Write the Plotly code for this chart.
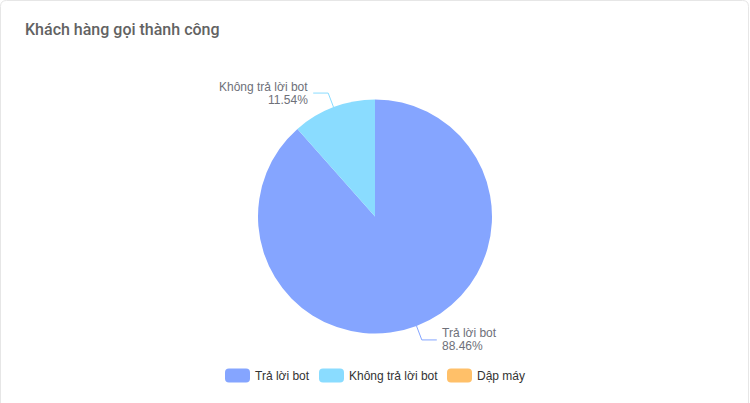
"""Pie chart: Khách hàng gọi thành công (card style, custom labels + legend)."""

import math
import plotly.graph_objects as go

TITLE = "Khách hàng gọi thành công"
CATEGORIES = ["Trả lời bot", "Không trả lời bot", "Dập máy"]
VALUES = [23, 3, 0]
COLORS = ["#85A5FF", "#8ADCFF", "#FFC069"]

W, H = 750, 403
TITLE_FONT = "Roboto, sans-serif"
FONT = "Liberation Sans, Arial, sans-serif"

# pie geometry (pixels, y down)
CX, CY, R = 375, 216.5, 117
LINE1, LINE2 = 15, 15


def px(x):
    return x / W


def py(y):
    return 1 - y / H


def rounded_rect(x0, y0, x1, y1, r):
    # quadratic corners so it survives non-square paper scaling
    pts = [
        f"M {px(x0 + r)} {py(y0)}",
        f"L {px(x1 - r)} {py(y0)}",
        f"Q {px(x1)} {py(y0)} {px(x1)} {py(y0 + r)}",
        f"L {px(x1)} {py(y1 - r)}",
        f"Q {px(x1)} {py(y1)} {px(x1 - r)} {py(y1)}",
        f"L {px(x0 + r)} {py(y1)}",
        f"Q {px(x0)} {py(y1)} {px(x0)} {py(y1 - r)}",
        f"L {px(x0)} {py(y0 + r)}",
        f"Q {px(x0)} {py(y0)} {px(x0 + r)} {py(y0)}",
        "Z",
    ]
    return " ".join(pts)


fig = go.Figure()
fig.add_trace(go.Pie(
    labels=CATEGORIES, values=VALUES,
    marker=dict(colors=COLORS, line=dict(width=0)),
    sort=False, direction="clockwise", rotation=0,
    textinfo="none", showlegend=False,
    hovertemplate="%{label}: %{value} (%{percent})<extra></extra>",
    domain=dict(x=[px(CX - R), px(CX + R)], y=[py(CY + R), py(CY - R)]),
))

shapes = []
annotations = []

# card border (bottom edge runs past the window, as in the screenshot)
shapes.append(dict(type="path", xref="paper", yref="paper",
                   path=rounded_rect(0.5, 0.5, 748.5, 412, 6),
                   line=dict(color="#E6E6E6", width=1), fillcolor="rgba(0,0,0,0)",
                   layer="below"))

annotations.append(dict(
    text=TITLE, xref="paper", yref="paper", x=px(23), y=py(29),
    xanchor="left", yanchor="middle", showarrow=False,
    font=dict(family=TITLE_FONT, size=16, color="#626262", weight=500),
))

# outside labels with two-segment leader lines
total = sum(VALUES)
start = 0.0
for name, val, col in zip(CATEGORIES, VALUES, COLORS):
    frac = val / total
    if val == 0:
        start += frac
        continue
    mid = (start + frac / 2) * 2 * math.pi
    start += frac
    # keep angle in (-pi, pi] so left/right side is obvious
    if mid > math.pi:
        mid -= 2 * math.pi
    sx, cy = math.sin(mid), math.cos(mid)
    p = (CX + R * sx, CY - R * cy)
    q = (p[0] + LINE1 * sx, p[1] - LINE1 * cy)
    side = 1 if sx >= 0 else -1
    rr = (q[0] + side * LINE2, q[1])
    shapes.append(dict(type="path", xref="paper", yref="paper",
                       path=f"M {px(p[0])} {py(p[1])} L {px(q[0])} {py(q[1])} L {px(rr[0])} {py(rr[1])}",
                       line=dict(color=col, width=1)))
    anchor = "left" if side > 0 else "right"
    for txt, dy in ((name, -6.5), (f"{frac * 100:.2f}%", 6.5)):
        annotations.append(dict(
            text=txt, xref="paper", yref="paper",
            x=px(rr[0] + side * 3), y=py(rr[1] + dy),
            xanchor=anchor, yanchor="middle", showarrow=False,
            font=dict(family=FONT, size=12, color="#6E7079"),
        ))

# custom legend (rounded swatches)
LEGEND_X = [225, 319, 447]
LEGEND_Y = 375.5
for name, col, lx in zip(CATEGORIES, COLORS, LEGEND_X):
    shapes.append(dict(type="path", xref="paper", yref="paper",
                       path=rounded_rect(lx, LEGEND_Y - 7, lx + 25, LEGEND_Y + 7, 4),
                       line=dict(width=0), fillcolor=col))
    annotations.append(dict(
        text=name, xref="paper", yref="paper", x=px(lx + 28), y=py(LEGEND_Y),
        xanchor="left", yanchor="middle", showarrow=False,
        font=dict(family=FONT, size=12, color="#333333"),
    ))

fig.update_layout(
    width=W, height=H, autosize=False,
    margin=dict(l=0, r=0, t=0, b=0),
    paper_bgcolor="white", plot_bgcolor="white",
    shapes=shapes, annotations=annotations,
    font=dict(family=FONT),
)

# drop the default 8px body margin so the card sits flush with the window
fig.write_html("out.html", config={"displayModeBar": False},
               post_script="document.body.style.margin='0';")
